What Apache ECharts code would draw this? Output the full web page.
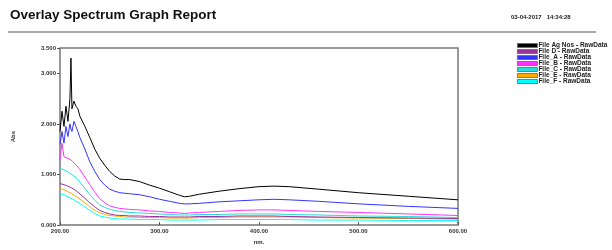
<!DOCTYPE html>
<html>
<head>
<meta charset="utf-8">
<script src="https://cdn.jsdelivr.net/npm/echarts@6/dist/echarts.min.js"></script>
<style>
  html, body { margin: 0; padding: 0; background: #fff; }
  #chart { width: 612px; height: 250px; }
</style>
</head>
<body>
<div id="chart"></div>
<script>
// wavelength (nm) shared by all series
const wavelengths = [200, 202, 204, 206, 208, 210, 211, 212, 214, 216, 218, 220, 225, 230, 235, 240, 245, 250, 255, 260, 265, 270, 280, 290, 300, 310, 320, 325, 330, 340, 360, 380, 400, 415, 430, 460, 500, 550, 600]

const seriesNames = ['File Ag Nos - RawData', 'File D - RawData', 'File_A - RawData', 'File_B - RawData', 'File_C - RawData', 'File_E - RawData', 'File_F - RawData']
const seriesColors = ['#000000', '#993399', '#3333ff', '#ff33ff', '#22dddd', '#ffaa00', '#00ffff']

const agNos = [1.85, 2.25, 1.95, 2.35, 2.05, 2.5, 3.3, 2.3, 2.45, 2.35, 2.3, 2.15, 1.95, 1.73, 1.5, 1.32, 1.18, 1.06, 0.97, 0.91, 0.9, 0.9, 0.86, 0.79, 0.73, 0.66, 0.59, 0.56, 0.57, 0.61, 0.67, 0.72, 0.76, 0.77, 0.76, 0.71, 0.64, 0.57, 0.5]
const fileD = [0.82, 0.81, 0.8, 0.79, 0.77, 0.75, 0.74, 0.73, 0.71, 0.68, 0.65, 0.62, 0.53, 0.44, 0.36, 0.29, 0.25, 0.22, 0.2, 0.19, 0.19, 0.18, 0.18, 0.17, 0.17, 0.16, 0.16, 0.16, 0.16, 0.17, 0.17, 0.18, 0.18, 0.18, 0.17, 0.16, 0.15, 0.14, 0.13]
const fileA = [1.6, 1.85, 1.62, 1.95, 1.75, 2.0, 1.9, 1.85, 2.05, 1.95, 1.85, 1.73, 1.5, 1.25, 1.06, 0.9, 0.79, 0.71, 0.67, 0.64, 0.63, 0.62, 0.6, 0.56, 0.51, 0.47, 0.43, 0.42, 0.42, 0.43, 0.46, 0.48, 0.5, 0.51, 0.5, 0.47, 0.42, 0.37, 0.33]
const fileB = [1.3, 1.62, 1.35, 1.34, 1.32, 1.3, 1.29, 1.27, 1.23, 1.19, 1.15, 1.1, 0.95, 0.8, 0.65, 0.52, 0.44, 0.38, 0.35, 0.33, 0.32, 0.31, 0.3, 0.28, 0.27, 0.25, 0.24, 0.23, 0.24, 0.25, 0.27, 0.29, 0.3, 0.3, 0.29, 0.27, 0.25, 0.22, 0.19]
const fileC = [1.12, 1.1, 1.09, 1.07, 1.05, 1.02, 1.01, 1.0, 0.97, 0.94, 0.9, 0.85, 0.73, 0.6, 0.49, 0.4, 0.35, 0.31, 0.29, 0.27, 0.26, 0.25, 0.24, 0.23, 0.22, 0.21, 0.2, 0.2, 0.2, 0.21, 0.21, 0.22, 0.22, 0.22, 0.21, 0.2, 0.18, 0.17, 0.15]
const fileE = [0.72, 0.71, 0.7, 0.68, 0.66, 0.64, 0.63, 0.62, 0.59, 0.57, 0.54, 0.52, 0.44, 0.36, 0.29, 0.24, 0.21, 0.19, 0.18, 0.17, 0.16, 0.16, 0.15, 0.15, 0.15, 0.14, 0.14, 0.14, 0.14, 0.15, 0.15, 0.16, 0.16, 0.16, 0.16, 0.15, 0.14, 0.13, 0.12]
const fileF = [0.62, 0.61, 0.6, 0.58, 0.56, 0.54, 0.53, 0.52, 0.5, 0.48, 0.45, 0.43, 0.36, 0.29, 0.23, 0.18, 0.16, 0.14, 0.13, 0.12, 0.12, 0.12, 0.11, 0.11, 0.11, 0.1, 0.1, 0.1, 0.1, 0.1, 0.11, 0.11, 0.11, 0.11, 0.11, 0.1, 0.1, 0.09, 0.09]

const allValues = [agNos, fileD, fileA, fileB, fileC, fileE, fileF]

const chart = echarts.init(document.getElementById('chart'))

const labelFont = { fontFamily: 'Liberation Sans', fontSize: 6, fontWeight: 'bold', color: '#333' }

const option = {
  animation: false,
  graphic: [
    {
      type: 'text', left: 10, top: 8,
      style: { text: 'Overlay Spectrum Graph Report', fontFamily: 'Liberation Sans', fontSize: 13.5, fontWeight: 'bold', fill: '#111' }
    },
    {
      type: 'text', left: 511, top: 14,
      style: { text: '03-04-2017   14:34:28', fontFamily: 'Liberation Sans', fontSize: 6, fontWeight: 'bold', fill: '#222' }
    },
    {
      type: 'rect', shape: { x: 8, y: 31, width: 588, height: 2 },
      style: { fill: '#aaaaaa' }
    }
  ],
  legend: {
    orient: 'vertical',
    left: 517,
    top: 42,
    padding: 0,
    itemWidth: 20,
    itemHeight: 4,
    itemGap: -1,
    icon: 'rect',
    itemStyle: { borderColor: '#666', borderWidth: 0.8 },
    textStyle: { fontFamily: 'Liberation Sans', fontSize: 6.5, fontWeight: 'bold', color: '#222', padding: [0, 0, 0, -4] },
    data: seriesNames
  },
  grid: {
    left: 60, right: 154, top: 48, bottom: 20,
    show: true, borderColor: '#777', borderWidth: 1.5
  },
  xAxis: {
    type: 'value',
    min: 200, max: 600, interval: 100,
    name: 'nm.', nameLocation: 'middle', nameGap: 10,
    nameTextStyle: labelFont,
    axisLine: { show: false },
    axisTick: { inside: true, length: 3, lineStyle: { color: '#555' } },
    axisLabel: Object.assign({ margin: 3, formatter: v => v.toFixed(2) }, labelFont),
    splitLine: { show: false }
  },
  yAxis: {
    type: 'value',
    min: 0, max: 3.5, interval: 1,
    name: 'Abs', nameLocation: 'middle', nameGap: 44, nameRotate: 90,
    nameTextStyle: labelFont,
    axisLine: { show: false },
    axisTick: { show: true, length: 3, lineStyle: { color: '#555' } },
    axisLabel: Object.assign({ margin: 4, formatter: v => v.toFixed(3) }, labelFont),
    splitLine: { show: false }
  },
  series: seriesNames.map((name, i) => ({
    name: name,
    type: 'line',
    symbol: 'none',
    color: seriesColors[i],
    lineStyle: { width: 1, color: seriesColors[i] },
    z: 10 - i,
    data: wavelengths.map((w, k) => [w, allValues[i][k]])
  }))
}

chart.setOption(option)
</script>
</body>
</html>
